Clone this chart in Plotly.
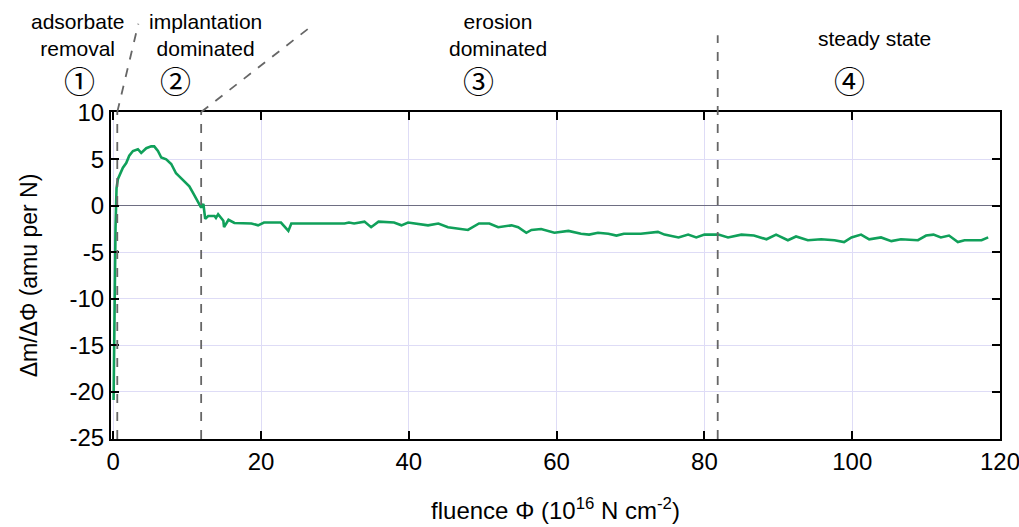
import plotly.graph_objects as go

fluence = [0.05, 0.18, 0.31, 0.45, 0.64, 1.31, 1.76, 2.17, 2.67, 3.34, 3.79, 4.47, 5.14, 5.55, 6.05,
           6.5, 7.17, 7.85, 8.5, 8.9, 9.6, 10.3, 10.8, 11.5, 11.9, 12.2, 12.45, 12.85, 13.7, 13.9,
           14.2, 14.9, 15.0, 15.6, 16.4, 18.7, 19.6, 20.4, 22.7, 23.7, 24.1, 27.2, 31.3, 31.9, 32.6,
           34.0, 34.9, 35.9, 38.0, 39.0, 39.9, 42.6, 44.0, 45.3, 48.0, 49.5, 50.9, 52.1, 53.9, 54.8,
           55.9, 56.6, 57.9, 59.7, 61.6, 63.3, 64.4, 65.6, 67.0, 68.1, 69.1, 71.4, 73.7, 74.6, 76.5,
           77.8, 78.9, 80.0, 81.9, 83.2, 85.0, 86.7, 88.4, 89.7, 91.3, 92.4, 94.0, 95.8, 97.6, 98.9,
           99.9, 101.2, 102.3, 103.9, 105.3, 106.6, 108.9, 110.0, 111.0, 112.0, 113.1, 114.3, 115.2,
           117.5, 118.4]
dm = [-20.9, -10.2, -2.4, 1.9, 2.9, 4.1, 4.6, 5.4, 5.9, 6.1, 5.7, 6.2, 6.4, 6.4, 5.9,
      5.2, 5.0, 4.5, 3.5, 3.2, 2.7, 2.1, 1.4, 0.3, -0.2, 0.2, -1.4, -1.1, -1.1, -1.3,
      -0.9, -1.6, -2.3, -1.5, -1.85, -1.9, -2.1, -1.8, -1.8, -2.7, -1.9, -1.9, -1.9, -1.8, -1.9,
      -1.7, -2.3, -1.7, -1.8, -2.1, -1.8, -2.1, -1.9, -2.3, -2.6, -1.9, -1.9, -2.3, -2.1, -2.3,
      -2.9, -2.6, -2.5, -2.9, -2.7, -3.0, -3.1, -2.9, -3.0, -3.2, -3.0, -3.0, -2.8, -3.1, -3.4,
      -3.1, -3.4, -3.1, -3.1, -3.4, -3.1, -3.2, -3.6, -3.1, -3.7, -3.3, -3.7, -3.6, -3.7, -3.9,
      -3.4, -3.1, -3.6, -3.4, -3.8, -3.6, -3.7, -3.2, -3.1, -3.4, -3.2, -3.9, -3.7,
      -3.7, -3.4]

phase_bounds = [0.55, 11.9, 81.8]
x_ticks = [0, 20, 40, 60, 80, 100, 120]
x_ticktext = ["0", "20", "40", "60", "80", "100", "120"]
y_ticks = [10, 5, 0, -5, -10, -15, -20, -25]
y_ticktext = ["10", "5", "0", "-5", "-10", "-15", "-20", "-25"]

phase_labels = ["adsorbate<br>removal", "implantation<br>dominated", "erosion<br>dominated", "steady state"]
phase_numbers = ["①", "②", "③", "④"]

FONT = "Liberation Sans, Arial, sans-serif"
CIRC_FONT = "Noto Sans CJK SC, DejaVu Sans"

fig = go.Figure()
fig.add_trace(go.Scatter(x=fluence, y=dm, mode="lines",
                         line=dict(color="#10a05a", width=2.6), showlegend=False))

axis_common = dict(showline=True, linecolor="black", linewidth=2, mirror="ticks",
                   ticks="inside", ticklen=8, tickwidth=1.5, tickcolor="black",
                   showgrid=True, gridcolor="#dedcf6", gridwidth=1, automargin=False,
                   ticklabeloverflow="allow",
                   tickfont=dict(family=FONT, size=24, color="black"))

fig.update_xaxes(range=[-0.3, 120], tickvals=x_ticks, ticktext=x_ticktext, zeroline=False,
                 title=dict(text="fluence Φ (10<sup>16</sup> N cm<sup>-2</sup>)",
                            font=dict(family=FONT, size=24, color="black"), standoff=28),
                 **axis_common)
fig.update_yaxes(range=[-25.1, 10.1], tickvals=y_ticks, ticktext=y_ticktext,
                 zeroline=True, zerolinecolor="#6e6e82", zerolinewidth=1.2,
                 title=dict(text="Δm/ΔΦ (amu per N)",
                            font=dict(family=FONT, size=23, color="black"), standoff=25),
                 **axis_common)

# vertical dashed phase boundaries
dash = dict(color="#666666", width=1.8, dash="dash")
fig.add_shape(type="line", xref="x", yref="paper", x0=phase_bounds[0], x1=phase_bounds[0],
              y0=0, y1=1.0, line=dash)
fig.add_shape(type="line", xref="x", yref="paper", x0=phase_bounds[0], x1=3.4,
              y0=1.0, y1=1.27, line=dash)
fig.add_shape(type="line", xref="x", yref="paper", x0=phase_bounds[1], x1=phase_bounds[1],
              y0=0, y1=1.0, line=dash)
fig.add_shape(type="line", xref="x", yref="paper", x0=phase_bounds[1], x1=26.8,
              y0=1.0, y1=1.262, line=dash)
fig.add_shape(type="line", xref="x", yref="paper", x0=phase_bounds[2], x1=phase_bounds[2],
              y0=0, y1=1.235, line=dash)

label_pos = [(-0.038, 1.235), (0.106, 1.235), (0.435, 1.235), (0.859, 1.226)]
for txt, (xx, yy) in zip(phase_labels, label_pos):
    fig.add_annotation(text=txt, x=xx, y=yy, xref="paper", yref="paper", showarrow=False,
                       font=dict(family=FONT, size=21, color="black"), align="center",
                       xanchor="center", yanchor="middle")

circ_pos = [-0.035, 0.072, 0.413, 0.831]
for txt, xx in zip(phase_numbers, circ_pos):
    fig.add_annotation(text=txt, x=xx, y=1.1, xref="paper", yref="paper", showarrow=False,
                       font=dict(family=CIRC_FONT, size=31, color="black"),
                       xanchor="center", yanchor="middle")

fig.update_layout(width=1019, height=527, margin=dict(l=111, r=19, t=112, b=88),
                  plot_bgcolor="white", paper_bgcolor="white")

fig.write_html("out.html")
